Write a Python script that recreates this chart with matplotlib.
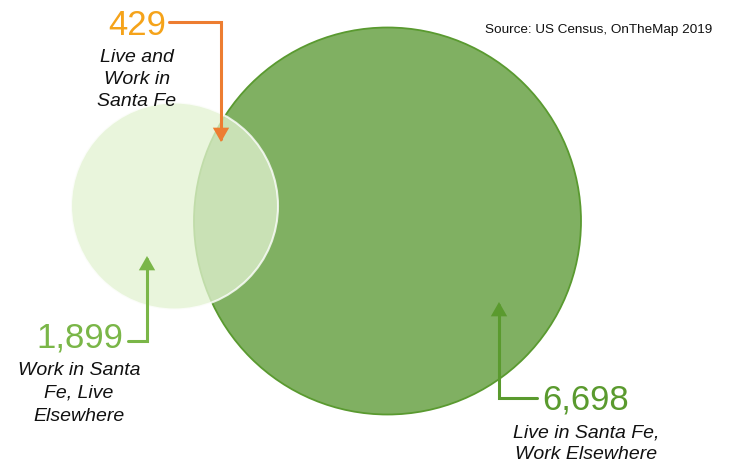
import matplotlib
matplotlib.use("Agg")
import matplotlib.pyplot as plt
from matplotlib.patches import Circle, FancyArrowPatch
from matplotlib.path import Path

plt.rcParams['font.family'] = ['Liberation Sans', 'DejaVu Sans']

# Data
categories = ["Live and Work in Santa Fe", "Work in Santa Fe, Live Elsewhere", "Live in Santa Fe, Work Elsewhere"]
values = [429, 1899, 6698]
labels = ["Live and\nWork in\nSanta Fe", "Work in Santa\nFe, Live\nElsewhere", "Live in Santa Fe,\nWork Elsewhere"]
source = "Source: US Census, OnTheMap 2019"

# Layout (pixel space)
W, H = 732, 463
fig = plt.figure(figsize=(W / 100, H / 100), dpi=100)
ax = fig.add_axes([0, 0, 1, 1])
ax.set_xlim(0, W)
ax.set_ylim(H, 0)
ax.set_aspect('equal')
ax.axis('off')

# circles
big = Circle((387.5, 221), 193.5, facecolor='#80b062', edgecolor='#5a9a30', lw=1.3, zorder=1)
small = Circle((174.5, 206), 103.5, facecolor=(226/255, 242/255, 209/255, 0.755),
               edgecolor=(1, 1, 1, 0.8), lw=1.5, zorder=2)
ax.add_patch(big)
ax.add_patch(small)

num_colors = ['#f5a31a', '#7ab648', '#5a9a2e']
arrow_colors = ['#ed7d31', '#7ab648', '#5a9a2e']

def fmt(v):
    return f"{v:,}"

def arrow(verts, color):
    p = FancyArrowPatch(path=Path(verts), arrowstyle='-|>,head_length=7,head_width=4',
                        color=color, lw=2.2, zorder=5, shrinkA=0, shrinkB=0,
                        joinstyle='miter')
    ax.add_patch(p)

def label_lines(x, baselines, text):
    for yb, line in zip(baselines, text.split('\n')):
        ax.text(x, yb, line, style='italic', fontsize=14, ha='center', va='baseline',
                color='#111111', zorder=6)

# 429
ax.text(137, 35, fmt(values[0]), color=num_colors[0], fontsize=25, ha='center', va='baseline', zorder=6)
label_lines(137, [62, 84, 106], labels[0])
arrow([(169, 22), (221, 22), (221, 142)], arrow_colors[0])

# 1,899
ax.text(80, 348, fmt(values[1]), color=num_colors[1], fontsize=25, ha='center', va='baseline', zorder=6)
label_lines(79, [375, 398, 421], labels[1])
arrow([(128, 341), (147, 341), (147, 256)], arrow_colors[1])

# 6,698
ax.text(585.5, 410, fmt(values[2]), color=num_colors[2], fontsize=25, ha='center', va='baseline', zorder=6)
label_lines(586, [437, 459], labels[2])
arrow([(537, 398), (499, 398), (499, 302)], arrow_colors[2])

# source
ax.text(712, 30, source, fontsize=9.7, ha='right', va='center', color='#111111', zorder=6)

fig.savefig('out.png', dpi=100)
